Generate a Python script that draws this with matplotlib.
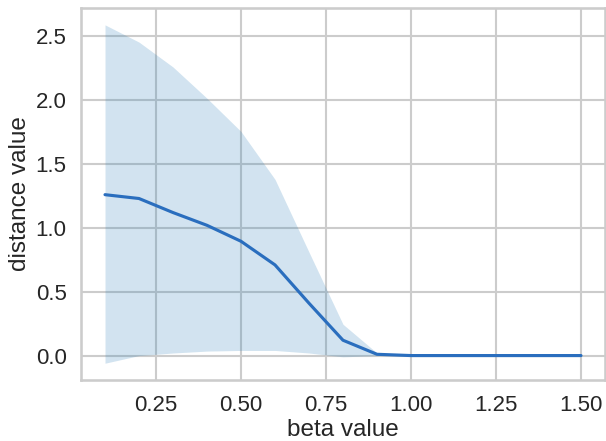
import matplotlib
matplotlib.use("Agg")
import matplotlib.pyplot as plt
import seaborn as sns

beta = [0.1, 0.2, 0.3, 0.4, 0.5, 0.6, 0.7, 0.8, 0.9, 1.0, 1.1, 1.2, 1.3, 1.4, 1.5]
dist_mean = [1.26, 1.23, 1.12, 1.02, 0.895, 0.71, 0.41, 0.12, 0.01, 0.0, 0.0, 0.0, 0.0, 0.0, 0.0]
dist_upper = [2.59, 2.455, 2.26, 2.015, 1.755, 1.38, 0.81, 0.245, 0.02, 0.0, 0.0, 0.0, 0.0, 0.0, 0.0]
dist_lower = [-0.06, 0.0, 0.02, 0.035, 0.04, 0.04, 0.02, -0.01, 0.0, 0.0, 0.0, 0.0, 0.0, 0.0, 0.0]

sns.set_theme(style="whitegrid", context="talk")
plt.rcParams["font.family"] = ["Liberation Sans", "DejaVu Sans"]

fig = plt.figure(figsize=(6.06, 4.41), dpi=100)
ax = fig.add_axes([0.134, 0.138, 0.864, 0.844])
ax.fill_between(beta, dist_lower, dist_upper, color="#1f77b4", alpha=0.2, linewidth=0)
ax.plot(beta, dist_mean, color="#2a6ebe")
ax.set_xlabel("beta value", fontsize=17.5, labelpad=2)
ax.set_ylabel("distance value", fontsize=17.5, labelpad=3)
ax.set_xticks([0.25, 0.5, 0.75, 1.0, 1.25, 1.5])
ax.tick_params(axis="both", labelsize=16, pad=1.5)

fig.savefig("out.png", dpi=100)
